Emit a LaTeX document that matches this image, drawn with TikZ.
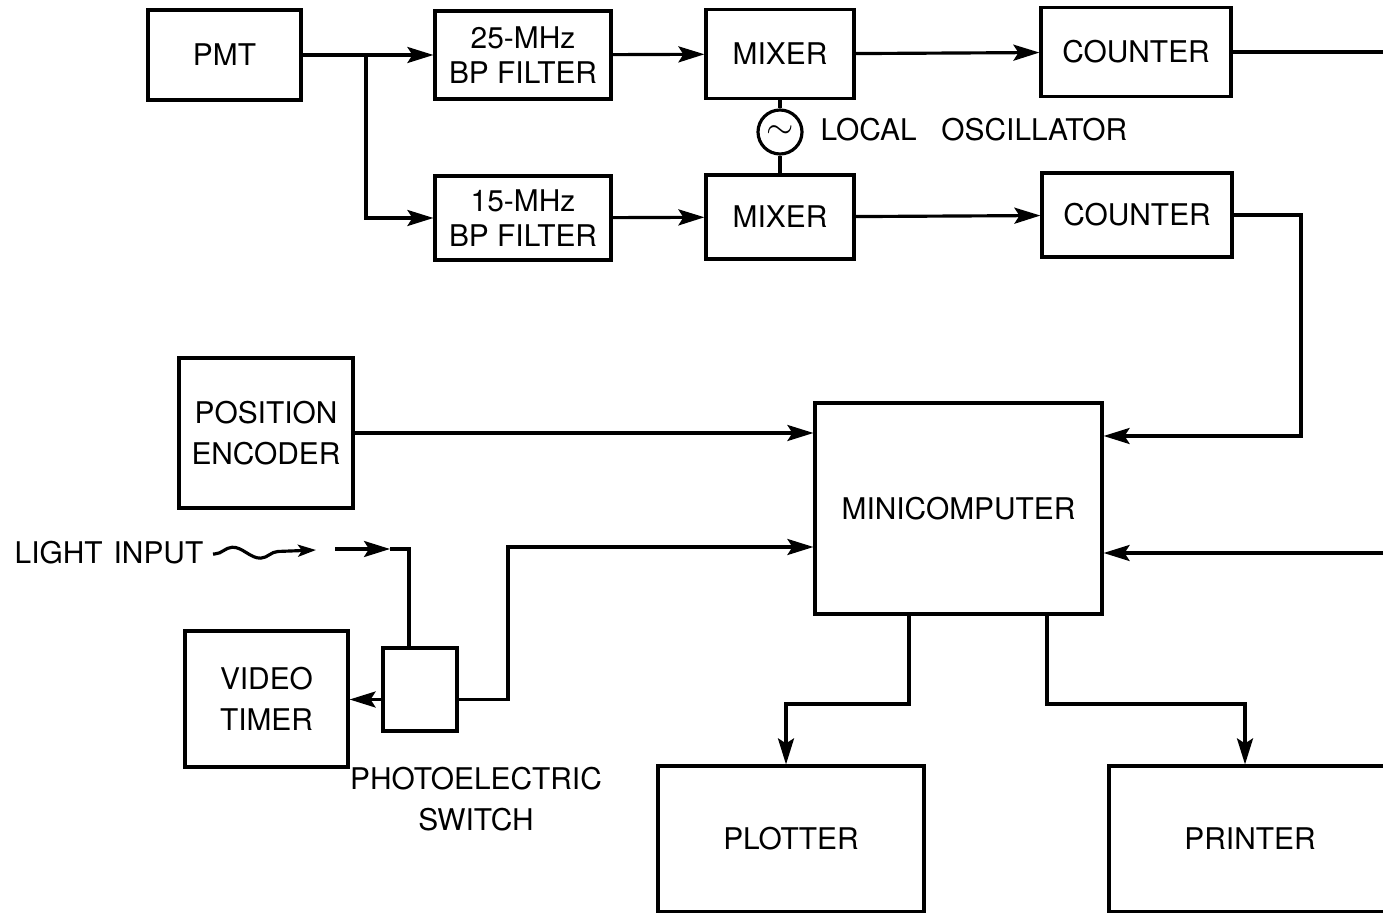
\documentclass[tikz,border=0pt]{standalone}
\usepackage{fontspec}
\setmainfont{TeX Gyre Heros}
\usetikzlibrary{positioning, arrows.meta, calc, decorations.pathmorphing}
\newcommand{\blockfont}{\fontsize{8.5}{11.5}\selectfont}
\newcommand{\filterfont}{\fontsize{8.5}{9.9}\selectfont}
\tikzset{
  block/.style={rectangle, draw=black, line width=0.9pt, inner sep=0pt, align=center, font=\blockfont},
  label/.style={inner sep=0pt, align=center, font=\blockfont},
  wire/.style={line width=0.9pt},
  arrow/.style={line width=0.9pt, -{Stealth[length=2.6mm, width=1.6mm, inset=0.5mm]}},
  wave/.style={line width=0.9pt, -{Stealth[length=1.8mm, width=1.2mm, inset=0.4mm]}, decorate,
    decoration={snake, amplitude=0.6mm, segment length=5.6mm, pre length=0.2mm, post length=1.6mm}}
}

\begin{document}
\begin{tikzpicture}[x=1cm, y=1cm]
    \useasboundingbox (0,0) rectangle (13.83,-9.13);
    \clip (0,0) rectangle (13.83,-9.13);

    % Cadena de entrada
    \node[block, minimum width=1.53cm, minimum height=0.90cm] (pmt) at (2.245,-0.55) {PMT};
    \node[block, font=\filterfont, minimum width=1.76cm, minimum height=0.88cm] (filtA) at (5.23,-0.55) {25-MHz\\BP FILTER};
    \node[block, minimum width=1.48cm, minimum height=0.89cm] (mixA) at (7.80,-0.54) {MIXER};
    \node[block, minimum width=1.90cm, minimum height=0.89cm] (cntA) at (11.36,-0.52) {COUNTER};

    \node[block, font=\filterfont, minimum width=1.76cm, minimum height=0.84cm] (filtB) at (5.23,-2.18) {15-MHz\\BP FILTER};
    \node[block, minimum width=1.48cm, minimum height=0.84cm] (mixB) at (7.80,-2.17) {MIXER};
    \node[block, minimum width=1.90cm, minimum height=0.84cm] (cntB) at (11.37,-2.15) {COUNTER};

    % Oscilador local
    \node[circle, draw=black, line width=0.9pt, minimum size=0.44cm, inner sep=0pt] (osc) at (7.80,-1.32) {$\sim$};
    \node[label, anchor=west] (osctext) at (8.20,-1.30) {LOCAL\ \ \ OSCILLATOR};

    % Bloques inferiores
    \node[block, minimum width=1.74cm, minimum height=1.50cm] (enc) at (2.66,-4.33) {POSITION\\ENCODER};
    \node[block, minimum width=2.87cm, minimum height=2.11cm] (mini) at (9.585,-5.085) {MINICOMPUTER};
    \node[block, minimum width=1.63cm, minimum height=1.36cm] (vt) at (2.665,-6.99) {VIDEO\\TIMER};
    \node[block, minimum width=0.74cm, minimum height=0.83cm] (pes) at (4.20,-6.895) {};
    \node[label] (pestext) at (4.76,-7.99) {PHOTOELECTRIC\\SWITCH};
    \node[block, minimum width=2.66cm, minimum height=1.46cm] (plot) at (7.91,-8.39) {PLOTTER};
    \node[block, minimum width=2.82cm, minimum height=1.46cm] (prn) at (12.50,-8.39) {PRINTER};
    \node[label, anchor=east] (lightin) at (2.04,-5.53) {LIGHT\hspace{1.1mm}INPUT};

    % Puntos auxiliares
    \coordinate (split) at (3.66,-0.55);
    \coordinate (edgeA) at (13.95,-0.52);
    \coordinate (edgeB) at (13.95,-5.53);
    \coordinate (cbend) at (13.01,-4.36);
    \coordinate (pbend) at (5.08,-5.47);
    \coordinate (wavestart) at (2.13,-5.54);
    \coordinate (waveend) at (3.16,-5.50);
    \coordinate (lsplit) at (3.35,-5.49);
    \coordinate (lhead) at (3.90,-5.49);
    \coordinate (plbend) at (9.09,-7.04);
    \coordinate (prbend) at (10.47,-7.04);

    % Conexiones de los filtros
    \draw[wire] (pmt.east) -- (split);
    \draw[arrow] (split) -- (filtA.west);
    \draw[arrow] (split) |- (filtB.west);
    \draw[arrow] (filtA) -- (mixA);
    \draw[arrow] (mixA) -- (cntA);
    \draw[arrow] (filtB) -- (mixB);
    \draw[arrow] (mixB) -- (cntB);
    \draw[wire] (cntA.east) -- (edgeA);
    \draw[wire] (mixA) -- (osc);
    \draw[wire] (osc) -- (mixB);

    % Entradas del minicomputador
    \draw[arrow] (cntB.east) -| (cbend) -- (cbend -| mini.east);
    \draw[arrow] (edgeB) -- (edgeB -| mini.east);
    \draw[arrow] (enc.east) -- (enc.east -| mini.west);
    \draw[arrow] ([yshift=-1mm]pes.east) -| (pbend) -- (pbend -| mini.west);

    % Luz y conmutador
    \draw[wave] (wavestart) -- (waveend);
    \draw[arrow] (lsplit) -- (lhead);
    \draw[wire] (lhead) -| ([xshift=-1.1mm]pes.north);
    \draw[arrow] ([yshift=-1mm]pes.west) -- ([yshift=-1mm]pes.west -| vt.east);

    % Salidas
    \draw[arrow] (plbend |- mini.south) -- (plbend) -| ([xshift=-0.5mm]plot.north);
    \draw[arrow] (prbend |- mini.south) -- (prbend) -| ([xshift=-0.5mm]prn.north);

\end{tikzpicture}
\end{document}
